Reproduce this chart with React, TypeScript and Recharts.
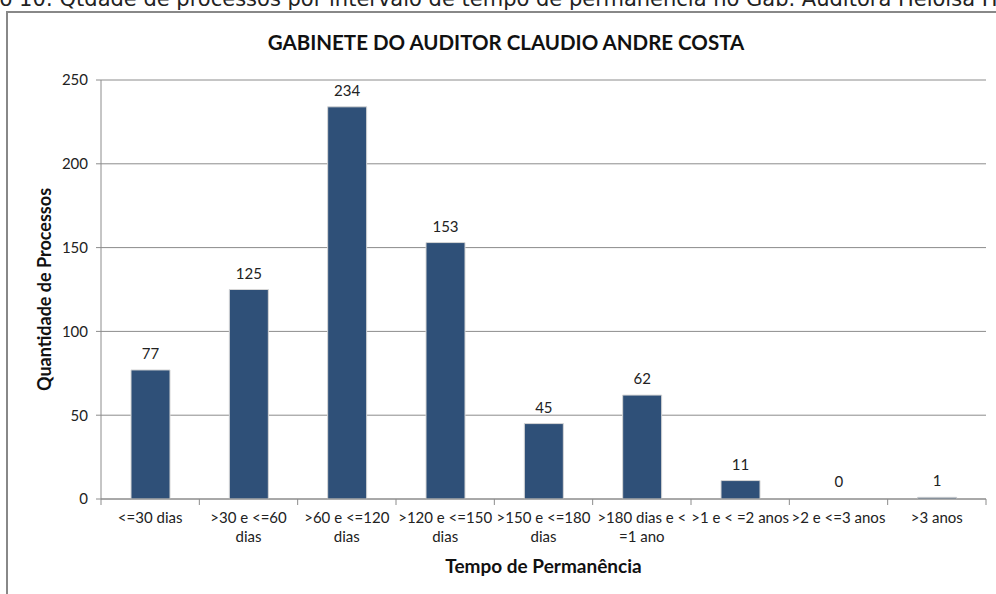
import { Bar, BarChart, CartesianGrid, LabelList, Rectangle, XAxis, YAxis } from 'recharts'

const categories = [
  '<=30 dias',
  '>30 e <=60 dias',
  '>60 e <=120 dias',
  '>120 e <=150 dias',
  '>150 e <=180 dias',
  '>180 dias e < =1 ano',
  '>1 e < =2 anos',
  '>2 e <=3 anos',
  '>3 anos',
]

const tickLines = [
  ['<=30 dias'],
  ['>30 e <=60', 'dias'],
  ['>60 e <=120', 'dias'],
  ['>120 e <=150', 'dias'],
  ['>150 e <=180', 'dias'],
  ['>180 dias e <', '=1 ano'],
  ['>1 e < =2 anos'],
  ['>2 e <=3 anos'],
  ['>3 anos'],
]

const quantities = [77, 125, 234, 153, 45, 62, 11, 0, 1]
const yTicks = [0, 50, 100, 150, 200, 250]

const data = categories.map((name, i) => ({ name, quantity: quantities[i] }))

const FONT = 'Lato, "Liberation Sans", sans-serif'
const GRID = '#8c8c8c'

function CategoryTick(props: any) {
  const { x, y, payload } = props
  const idx = payload.index
  const half = payload.offset || 885 / 9 / 2
  const axisY = y - 10
  const lines = tickLines[idx] || [String(payload.value)]
  return (
    <g>
      <line x1={x - half} y1={axisY} x2={x - half} y2={axisY + 6} stroke={GRID} />
      {idx === categories.length - 1 && (
        <line x1={x + half} y1={axisY} x2={x + half} y2={axisY + 6} stroke={GRID} />
      )}
      <text x={x} y={y} textAnchor="middle" fill="#222" fontSize={15} fontFamily={FONT}>
        {lines.map((line: string, i: number) => (
          <tspan key={i} x={x} dy={i === 0 ? 14 : 19}>
            {line}
          </tspan>
        ))}
      </text>
    </g>
  )
}

// zero-valued bars keep their label but draw no rectangle
function BarShape(props: any) {
  if (!props.payload || props.payload.quantity <= 0) return <g />
  return <Rectangle {...props} />
}

export default function App() {
  return (
    <div
      style={{
        position: 'absolute',
        left: 0,
        top: 0,
        width: 996,
        height: 594,
        overflow: 'hidden',
        background: '#fff',
        fontFamily: FONT,
      }}
    >
      <div
        style={{
          position: 'absolute',
          left: -63,
          top: -11,
          whiteSpace: 'nowrap',
          fontFamily: '"DejaVu Sans", sans-serif',
          fontSize: 21,
          lineHeight: '21px',
          color: '#222',
        }}
      >
        Gráfico 10: Qtdade de processos por intervalo de tempo de permanência no Gab. Auditora Heloisa Helena
      </div>
      <div
        style={{
          position: 'absolute',
          left: 6,
          top: 11,
          width: 1100,
          height: 700,
          border: '2px solid #888',
        }}
      />
      <div
        style={{
          position: 'absolute',
          left: 0,
          top: 30,
          width: 1012,
          textAlign: 'center',
          fontWeight: 700,
          fontSize: 20.5,
          color: '#111',
        }}
      >
        GABINETE DO AUDITOR CLAUDIO ANDRE COSTA
      </div>
      <div style={{ position: 'absolute', left: 0, top: 0 }}>
        <BarChart
          width={996}
          height={594}
          data={data}
          margin={{ top: 80, right: 10, bottom: 15, left: 45 }}
        >
          <CartesianGrid vertical={false} stroke={GRID} />
          <XAxis
            dataKey="name"
            interval={0}
            height={80}
            tickSize={6}
            tickMargin={4}
            tickLine={false}
            axisLine={{ stroke: GRID }}
            tick={<CategoryTick />}
            label={{
              value: 'Tempo de Permanência',
              position: 'insideBottom',
              offset: 6,
              fill: '#111',
              fontSize: 19,
              fontWeight: 700,
              fontFamily: FONT,
            }}
          />
          <YAxis
            width={56}
            domain={[0, 250]}
            ticks={yTicks}
            interval={0}
            tickSize={5}
            tickMargin={8}
            axisLine={{ stroke: GRID }}
            tickLine={{ stroke: GRID }}
            tick={{ fill: '#222', fontSize: 15, fontFamily: FONT }}
            label={{
              value: 'Quantidade de Processos',
              angle: -90,
              position: 'center',
              dx: -28,
              fill: '#111',
              fontSize: 18,
              fontWeight: 700,
              fontFamily: FONT,
            }}
          />
          <Bar
            dataKey="quantity"
            fill="#2F5078"
            stroke="#d6d6d6"
            strokeWidth={1}
            barSize={39}
            minPointSize={1}
            shape={<BarShape />}
            isAnimationActive={false}
          >
            <LabelList
              dataKey="quantity"
              position="top"
              offset={11}
              fill="#222"
              fontSize={15}
              fontFamily={FONT}
            />
          </Bar>
        </BarChart>
      </div>
    </div>
  )
}
